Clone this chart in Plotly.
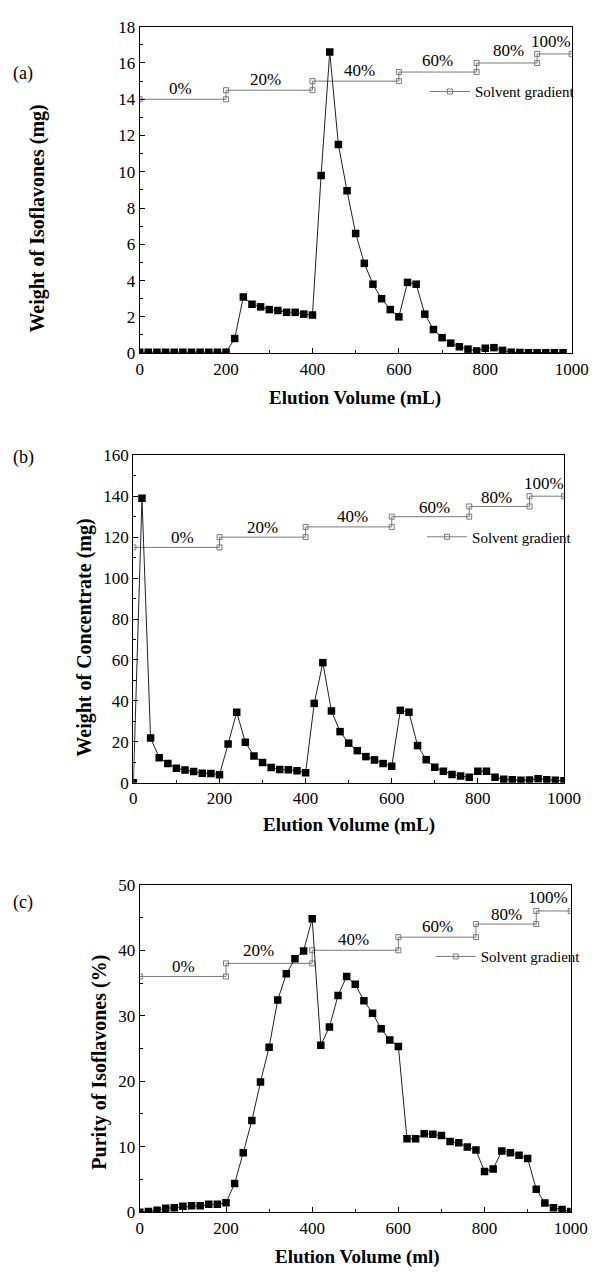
import plotly.graph_objects as go

# ---------------- data ----------------
volume = [0, 20, 40, 60, 80, 100, 120, 140, 160, 180, 200,
          220, 240, 260, 280, 300, 320, 340, 360, 380, 400,
          420, 440, 460, 480, 500, 520, 540, 560, 580, 600,
          620, 640, 660, 680, 700, 720, 740, 760, 780, 800,
          820, 840, 860, 880, 900, 920, 940, 960, 980, 1000]

volume_a = volume[:50]
isoflavones_mg = [0.05, 0.05, 0.05, 0.05, 0.05, 0.05, 0.05, 0.05, 0.05, 0.05, 0.05,
                  0.8, 3.1, 2.7, 2.55, 2.4, 2.35, 2.25, 2.25, 2.15, 2.1,
                  9.8, 16.6, 11.5, 8.95, 6.6, 4.95, 3.8, 3.0, 2.4, 2.0,
                  3.9, 3.8, 2.15, 1.3, 0.85, 0.55, 0.35, 0.22, 0.12, 0.27,
                  0.3, 0.15, 0.05, 0.03, 0.02, 0.02, 0.02, 0.02, 0.02]

concentrate_mg = [0, 139, 21.9, 12.3, 9.4, 7.1, 6.2, 5.5, 4.7, 4.6, 3.9,
                  19.0, 34.5, 19.8, 13.1, 9.9, 7.5, 6.5, 6.4, 5.9, 4.9,
                  38.8, 58.7, 35.1, 25.0, 19.4, 15.7, 12.8, 11.2, 9.4, 8.1,
                  35.4, 34.5, 18.2, 11.3, 7.6, 5.7, 4.1, 3.3, 2.7, 5.7,
                  5.7, 2.7, 1.7, 1.5, 1.2, 1.4, 2.0, 1.5, 1.2, 1.0]

purity_pct = [0, 0.1, 0.3, 0.6, 0.7, 0.9, 1.0, 1.0, 1.2, 1.2, 1.45,
              4.4, 9.1, 14.0, 19.9, 25.2, 32.4, 36.4, 38.7, 39.9, 44.8,
              25.5, 28.3, 33.1, 36.0, 34.8, 32.3, 30.4, 28.0, 26.3, 25.3,
              11.2, 11.2, 12.0, 11.9, 11.7, 10.8, 10.6, 9.95, 9.5, 6.2,
              6.6, 9.35, 9.1, 8.7, 8.2, 3.5, 1.4, 0.7, 0.4, 0.1]

gradient_x = [0, 200, 200, 400, 400, 600, 600, 780, 780, 920, 920, 1000]
gradient_a = [14, 14, 14.5, 14.5, 15, 15, 15.5, 15.5, 16, 16, 16.5, 16.5]
gradient_b = [115, 115, 120, 120, 125, 125, 130, 130, 135, 135, 140, 140]
gradient_c = [36, 36, 38, 38, 40, 40, 42, 42, 44, 44, 46, 46]

gradient_labels = ["0%", "20%", "40%", "60%", "80%", "100%"]

x_ticks = [0, 200, 400, 600, 800, 1000]

# ---------------- layout helpers ----------------
W, H = 608, 1277
FONT = "Liberation Serif, Times New Roman, serif"

def px_x(p):
    return p / W

def px_y(p):
    return 1 - p / H

panels = [
    dict(key="", box=(140.5, 588, 18, 349.3), yrange=[0, 18], dtick=2, minor=1,
         y=isoflavones_mg, x=volume_a, grad=gradient_a, legend="legend",
         ytitle="Weight of Isoflavones (mg)", ytitle_pos=(35, 213),
         xtitle="Elution Volume (mL)", xtitle_pos=(364, 395),
         tag="(a)", tag_pos=(20, 65), leg_pos=(436, 84),
         lab_x=[95, 292, 508, 690, 853, 953],
         lab_y=[14.59, 15.08, 15.59, 16.13, 16.67, 17.2]),
    dict(key="2", box=(134, 580, 453, 785.5), yrange=[0, 160], dtick=20, minor=10,
         y=concentrate_mg, x=volume, grad=gradient_b, legend="legend2",
         ytitle="Weight of Concentrate (mg)", ytitle_pos=(83, 638),
         xtitle="Elution Volume (mL)", xtitle_pos=(357, 828),
         tag="(b)", tag_pos=(20, 455), leg_pos=(433, 536),
         lab_x=[114, 300, 509, 700, 843, 953],
         lab_y=[120, 124.7, 130, 134.7, 139.5, 146.4]),
    dict(key="3", box=(140.7, 587, 889, 1221.4), yrange=[0, 50], dtick=10, minor=5,
         y=purity_pct, x=volume, grad=gradient_c, legend="legend3",
         ytitle="Purity of Isoflavones (%)", ytitle_pos=(99, 1069),
         xtitle="Elution Volume (ml)", xtitle_pos=(366, 1267),
         tag="(c)", tag_pos=(20, 907), leg_pos=(442, 962),
         lab_x=[101, 276, 497, 691, 850, 947],
         lab_y=[37.5, 39.9, 41.7, 43.7, 45.5, 48.1]),
]

fig = go.Figure()
annotations = []
layout_axes = {}

for p in panels:
    k = p["key"]
    xa, ya = "x" + k, "y" + k
    # gradient
    fig.add_trace(go.Scatter(
        x=gradient_x, y=p["grad"], xaxis=xa, yaxis=ya, mode="lines+markers",
        name="Solvent gradient", legend=p["legend"], showlegend=True,
        line=dict(color="#7a7a7a", width=1),
        marker=dict(symbol="square-open", size=5, color="#7a7a7a", line=dict(width=1)),
    ))
    # data
    fig.add_trace(go.Scatter(
        x=p["x"], y=p["y"], xaxis=xa, yaxis=ya, mode="lines+markers",
        showlegend=False,
        line=dict(color="#222222", width=1),
        marker=dict(symbol="square", size=7.5, color="black"),
    ))
    x0, x1, y0, y1 = p["box"]
    axis_common = dict(showline=True, linecolor="black", linewidth=1.2, mirror=True,
                       showgrid=False, zeroline=False, ticks="inside",
                       tickcolor="black", ticklen=5, tickwidth=1,
                       tickfont=dict(family=FONT, size=17, color="black"))
    layout_axes["xaxis" + k] = dict(
        domain=[px_x(x0), px_x(x1)], anchor=ya, range=[0, 1000],
        tickvals=x_ticks, minor=dict(dtick=100, tick0=0, ticks="inside", ticklen=3,
                                     tickcolor="black"),
        **axis_common)
    layout_axes["yaxis" + k] = dict(
        domain=[px_y(y1), px_y(y0)], anchor=xa, range=p["yrange"],
        dtick=p["dtick"], tick0=0,
        minor=dict(dtick=p["minor"], tick0=0, ticks="inside", ticklen=3,
                   tickcolor="black"),
        **axis_common)
    layout_axes[p["legend"]] = dict(
        x=px_x(p["leg_pos"][0]), y=px_y(p["leg_pos"][1]),
        xanchor="left", yanchor="middle", bgcolor="rgba(0,0,0,0)",
        itemwidth=40, font=dict(family=FONT, size=15, color="black"))
    # step labels
    for t, lx, ly in zip(gradient_labels, p["lab_x"], p["lab_y"]):
        annotations.append(dict(x=lx, y=ly, xref=xa, yref=ya, text=t, showarrow=False,
                                font=dict(family=FONT, size=17, color="black"),
                                xanchor="center", yanchor="middle"))
    # titles
    annotations.append(dict(x=px_x(p["ytitle_pos"][0]), y=px_y(p["ytitle_pos"][1]),
                            xref="paper", yref="paper", text="<b>%s</b>" % p["ytitle"],
                            textangle=-90, showarrow=False,
                            font=dict(family=FONT, size=20, color="black"),
                            xanchor="center", yanchor="middle"))
    annotations.append(dict(x=px_x(p["xtitle_pos"][0]), y=px_y(p["xtitle_pos"][1]),
                            xref="paper", yref="paper", text="<b>%s</b>" % p["xtitle"],
                            showarrow=False,
                            font=dict(family=FONT, size=19, color="black"),
                            xanchor="center", yanchor="middle"))
    annotations.append(dict(x=px_x(p["tag_pos"][0]), y=px_y(p["tag_pos"][1]),
                            xref="paper", yref="paper", text=p["tag"],
                            showarrow=False,
                            font=dict(family=FONT, size=18, color="black"),
                            xanchor="center", yanchor="middle"))

fig.update_layout(
    width=W, height=H, margin=dict(l=0, r=0, t=0, b=0),
    paper_bgcolor="white", plot_bgcolor="white",
    annotations=annotations, **layout_axes,
)

fig.write_html("out.html")
